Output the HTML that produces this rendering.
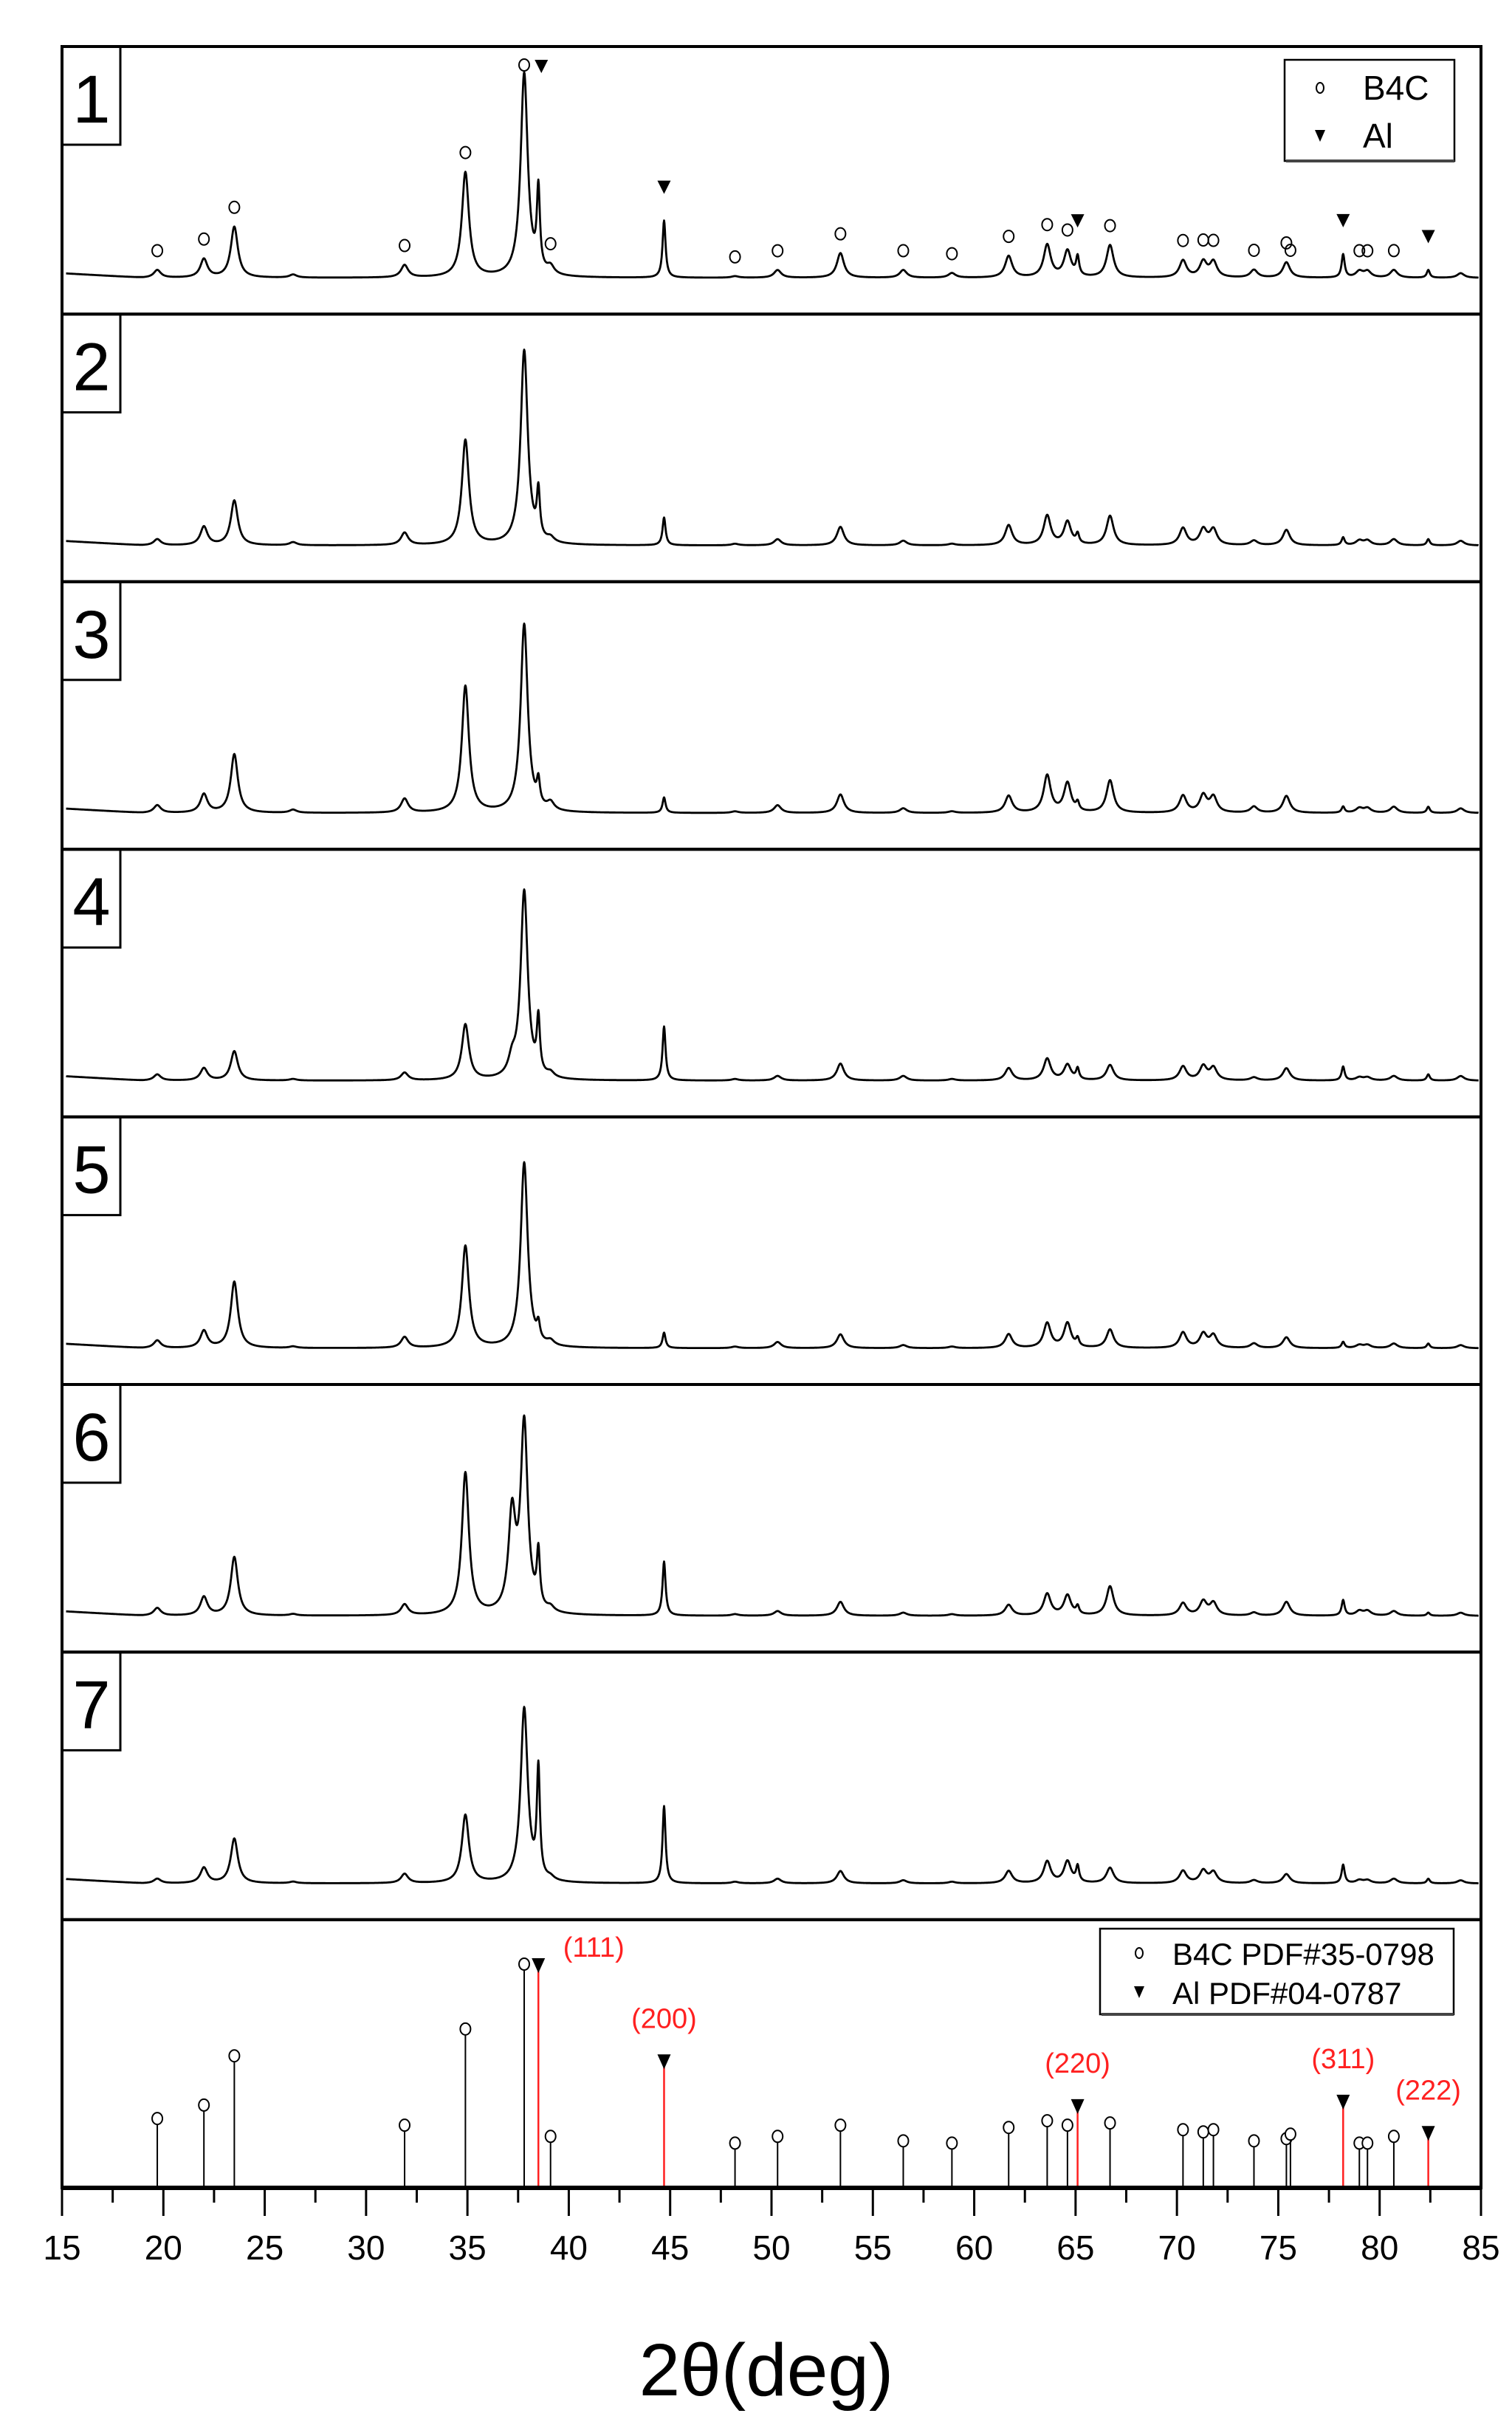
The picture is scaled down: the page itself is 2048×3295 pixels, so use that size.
<!DOCTYPE html>
<html><head><meta charset="utf-8">
<style>
html,body{margin:0;padding:0;background:#fff;}
svg{display:block;font-family:"Liberation Sans",Arial,sans-serif;}
</style></head>
<body>
<svg id="chart" width="2048" height="3295" viewBox="0 0 2048 3295" xmlns="http://www.w3.org/2000/svg"></svg>
<script>
// ---- data ----
const peakPositions = [19.7,22.0,23.5,26.4,31.9,34.9,37.2,37.8,38.5,39.1,44.7,48.2,50.3,53.4,56.5,58.9,61.7,63.6,64.6,65.1,66.7,70.3,71.3,71.8,73.8,75.4,78.2,79.0,79.4,80.7,82.4,84.0];
const peakIsAl =      [0,0,0,0,0,0,0,0,1,0,1,0,0,0,0,0,0,0,0,1,0,0,0,0,0,0,1,0,0,0,1,0];
const sample1 = [5,12,33,2,8,68,0,132,52,5,37,1,5,16,5,3,14,21,17,12,21,11,10,10,5,10,15,4,4,5,5,3];
const sample2 = [4,12,29,2,8,68,0,126,30,3,18,1,4,12,3,1,13,19,15,6,19,11,10,10,3,10,5,3,3,4,4,3];
const sample3 = [5,12,38,2,9,82,0,122,15,5,10,1,5,12,3,1,11,24,19,5,21,11,11,10,4,11,4,3,3,4,4,3];
const sample4 = [4,8,19,1,5,36,10,122,35,3,35,1,3,11,3,1,8,14,10,7,10,9,9,8,2,8,9,2,2,3,4,3];
const sample5 = [5,11,43,1,7,66,0,120,10,3,10,1,4,9,2,1,9,16,16,5,12,10,9,8,3,7,4,2,2,3,3,2];
const sample6 = [5,12,38,1,7,92,62,122,35,3,35,1,3,9,2,1,7,14,13,5,19,8,9,8,2,9,10,3,3,3,2,2];
const sample7 = [3,10,29,1,6,44,0,113,70,2,50,1,3,8,2,1,8,14,14,10,10,8,8,7,2,6,12,2,2,3,3,2];
const samples = [sample1,sample2,sample3,sample4,sample5,sample6,sample7];
const panelLabels = ["1","2","3","4","5","6","7"];
// markers on sample 1
const b4cMarkers = [19.7,22.0,23.5,31.9,34.9,37.8,39.1,48.2,50.3,53.4,56.5,58.9,61.7,63.6,64.6,66.7,70.3,71.3,71.8,73.8,75.4,75.6,79.0,79.4,80.7];
const alMarkers = [38.5,44.7,65.1,78.2,82.4];
// reference patterns
const b4cRefPos = [19.7,22.0,23.5,31.9,34.9,37.8,39.1,48.2,50.3,53.4,56.5,58.9,61.7,63.6,64.6,66.7,70.3,71.3,71.8,73.8,75.4,75.6,79.0,79.4,80.7];
const b4cRefInt = [31,37,59,28,71,100,23,20,23,28,21,20,27,30,28,29,26,25,26,21,22,24,20,20,23];
const alRefPos = [38.5,44.7,65.1,78.2,82.4];
const alRefInt = [100,57,37,39,25];
const alRefLabels = ["(111)","(200)","(220)","(311)","(222)"];
const xTicks = [15,20,25,30,35,40,45,50,55,60,65,70,75,80,85];

// ---- layout ----
const NS="http://www.w3.org/2000/svg";
const svg=document.getElementById('chart');
const X0=84,X1=2006,D0=15,D1=85;
const xs=d=>X0+(d-D0)/(D1-D0)*(X1-X0);
const TOP=63,PH=362.4,AXIS_Y=2963;
function el(tag,attrs,parent){const e=document.createElementNS(NS,tag);for(const k in attrs)e.setAttribute(k,attrs[k]);(parent||svg).appendChild(e);return e;}
function prof(s,d){let v=0;for(let k=0;k<peakPositions.length;k++){const w=peakIsAl[k]?0.09:0.21;const t=(d-peakPositions[k])/w;v+=s[k]/(1+t*t);}return v;}

// panels
samples.forEach((s,i)=>{
  const top=TOP+i*PH, base=top+PH-49;
  const ys=v=>base-v*2.09;
  const g=el('g',{});
  
  
  let pts=[];
  for(let d=D0+0.2;d<=D1-0.1;d+=0.02){
    let v=(d<19?3*(19-d)/4:0)+prof(s,d);
    pts.push(xs(d).toFixed(1)+','+ys(v).toFixed(1));
  }
  const pl=el('polyline',{points:pts.join(' '),fill:'none',stroke:'#000','stroke-width':2.8,'stroke-linejoin':'round'},g);
  
  
  const box=el('rect',{x:X0,y:top,width:79,height:133,fill:'#fff',stroke:'#000','stroke-width':3},g);
  
  
  const t=el('text',{x:X0+40,y:top+103,'font-size':92,'text-anchor':'middle',fill:'#000'},g);
  t.textContent=panelLabels[i];
  
  
  if(i===0){
    const peakY=d=>ys(prof(s,d));
    b4cMarkers.forEach(d=>{
      const c=el('ellipse',{cx:xs(d),cy:Math.max(peakY(d)-26,top+25),rx:7,ry:8,fill:'none',stroke:'#000','stroke-width':2},g);
      
      
    });
    alMarkers.forEach((d,k)=>{
      const y=k===0?top+28:Math.max(peakY(d)-44,top+20), x=xs(d)+(k===0?4:0);
      const p=el('polygon',{points:`${x-9},${y-10} ${x+9},${y-10} ${x},${y+8}`,fill:'#000'},g);
      
      
    });
    const lg=el('g',{},g);
    
    
    el('rect',{x:1740,y:81,width:230,height:137,fill:'#fff',stroke:'#000','stroke-width':2.5},lg);
    el('line',{x1:1742,y1:218,x2:1970,y2:218,stroke:'#444','stroke-width':4},lg);
    el('ellipse',{cx:1788,cy:119,rx:5,ry:7,fill:'none',stroke:'#000','stroke-width':2},lg);
    el('polygon',{points:'1781,176 1795,176 1788,192',fill:'#000'},lg);
    const a=el('text',{x:1846,y:135,'font-size':46,fill:'#000'},lg);a.textContent='B4C';
    
    const b=el('text',{x:1846,y:200,'font-size':46,fill:'#000'},lg);b.textContent='Al';
    
  }
});

// reference panel
const rs=v=>AXIS_Y-v*3.03;
b4cRefPos.forEach((d,k)=>{
  const x=xs(d),y=rs(b4cRefInt[k]);
  const l=el('line',{x1:x,y1:y+8,x2:x,y2:AXIS_Y,stroke:'#000','stroke-width':2});
  
  const c=el('ellipse',{cx:x,cy:y,rx:7,ry:8,fill:'#fff',stroke:'#000','stroke-width':2});
  
});
alRefPos.forEach((d,k)=>{
  const x=xs(d),y=rs(alRefInt[k]);
  const l=el('line',{x1:x,y1:y,x2:x,y2:AXIS_Y,stroke:'#ff2020','stroke-width':2.5});
  
  const p=el('polygon',{points:`${x-9},${y-8} ${x+9},${y-8} ${x},${y+12}`,fill:'#000'});
  
  const t=el('text',{x:x+(k===0?75:0),y:y-(k===0?10:44),'font-size':38,fill:'#ff2020','text-anchor':'middle'});
  t.textContent=alRefLabels[k];
  
});
// reference legend
{
  const lg=el('g',{});
  
  el('rect',{x:1490,y:2612,width:479,height:116,fill:'#fff',stroke:'#000','stroke-width':2.5},lg);
  el('line',{x1:1492,y1:2728,x2:1969,y2:2728,stroke:'#444','stroke-width':4},lg);
  el('ellipse',{cx:1543,cy:2645,rx:5,ry:7,fill:'none',stroke:'#000','stroke-width':2},lg);
  el('polygon',{points:'1536,2690 1550,2690 1543,2706',fill:'#000'},lg);
  const a=el('text',{x:1588,y:2661,'font-size':42,fill:'#000'},lg);a.textContent='B4C PDF#35-0798';
  
  const b=el('text',{x:1588,y:2714,'font-size':42,fill:'#000'},lg);b.textContent='Al PDF#04-0787';
  
}

// frames
for(let i=0;i<8;i++){
  const top=TOP+i*PH, bot=(i<7)?TOP+(i+1)*PH:AXIS_Y;
  const r=el('rect',{x:X0,y:top,width:X1-X0,height:bot-top,fill:'none',stroke:'#000','stroke-width':4});
  
}
el('line',{x1:X0,y1:AXIS_Y,x2:X1,y2:AXIS_Y,stroke:'#000','stroke-width':6});
// ticks
const ax=el('g',{});

for(let d=15;d<=85;d+=2.5){
  const major=Math.abs(d%5)<0.01;
  el('line',{x1:xs(d),y1:AXIS_Y,x2:xs(d),y2:AXIS_Y+(major?38:20),stroke:'#000','stroke-width':3},ax);
}
xTicks.forEach(v=>{
  const t=el('text',{x:xs(v),y:3060,'font-size':46,'text-anchor':'middle',fill:'#000'},ax);
  t.textContent=v;
  
});
const tt=el('text',{x:1038,y:3244,'font-size':100,'text-anchor':'middle',fill:'#000'});
tt.textContent='2θ(deg)';

</script>
</body></html>
